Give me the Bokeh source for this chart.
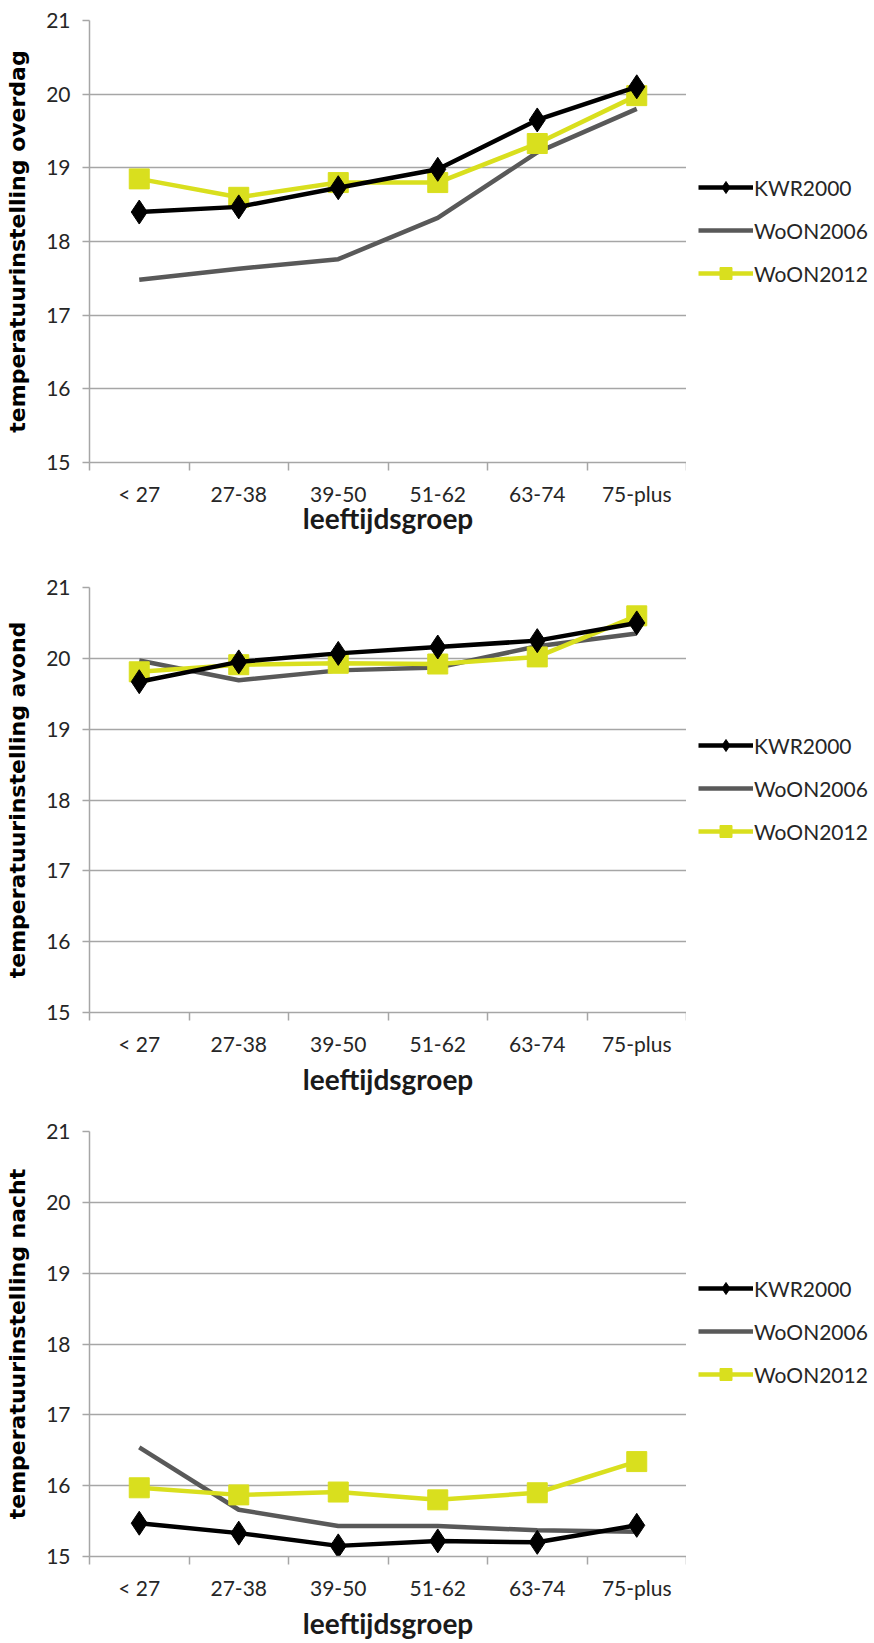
from bokeh.plotting import figure
from bokeh.models import Range1d, FixedTicker, Legend, LegendItem
from bokeh.layouts import column, row
from bokeh.embed import file_html
from bokeh.resources import INLINE

categories = ["< 27", "27-38", "39-50", "51-62", "63-74", "75-plus"]
series_names = ["KWR2000", "WoON2006", "WoON2012"]

overdag_kwr2000 = [18.40, 18.47, 18.73, 18.98, 19.65, 20.10]
overdag_woon2006 = [17.48, 17.63, 17.76, 18.32, 19.21, 19.80]
overdag_woon2012 = [18.85, 18.60, 18.80, 18.80, 19.33, 19.98]

avond_kwr2000 = [19.67, 19.95, 20.07, 20.16, 20.25, 20.50]
avond_woon2006 = [19.97, 19.69, 19.83, 19.87, 20.17, 20.35]
avond_woon2012 = [19.81, 19.91, 19.93, 19.92, 20.02, 20.60]

nacht_kwr2000 = [15.47, 15.33, 15.15, 15.22, 15.20, 15.44]
nacht_woon2006 = [16.54, 15.66, 15.43, 15.43, 15.37, 15.35]
nacht_woon2012 = [15.97, 15.87, 15.91, 15.80, 15.90, 16.34]

y_ticks = [15, 16, 17, 18, 19, 20, 21]
x_label = "leeftijdsgroep"
y_labels = ["temperatuurinstelling overdag", "temperatuurinstelling avond", "temperatuurinstelling nacht"]

COL_KWR = "#000000"
COL_06 = "#595959"
COL_12 = "#D9DF1E"
GRID = "#A6A6A6"
TXT = "#262626"
TICK_FONT = "Lato"

LEFT = 89
PLOT_W = 597
LEG_W = 874 - LEFT - PLOT_W

n = len(categories)
xs = [i + 0.5 for i in range(n)]
bounds = [i for i in range(n + 1)]


def style_series(kind):
    if kind == 0:
        return dict(line_color=COL_KWR, line_width=4.5), dict(marker="diamond", size=24, fill_color=COL_KWR, line_color=COL_KWR)
    if kind == 1:
        return dict(line_color=COL_06, line_width=4.5), None
    return dict(line_color=COL_12, line_width=4.5), dict(marker="square", size=20, fill_color=COL_12, line_color=COL_12)


def make_panel(ylabel, kwr, w06, w12, frame_h, b_top, b_bottom, legend_vy, xl_standoff):
    H = b_top + frame_h + b_bottom
    p = figure(width=LEFT + PLOT_W, height=H,
               x_range=Range1d(0, n), y_range=Range1d(y_ticks[0], y_ticks[-1]),
               output_backend="svg", toolbar_location=None,
               min_border_left=LEFT, min_border_right=0,
               min_border_top=b_top, min_border_bottom=b_bottom)
    p.outline_line_color = None
    p.background_fill_color = "white"
    p.border_fill_color = "white"

    p.xgrid.visible = False
    p.ygrid.ticker = FixedTicker(ticks=y_ticks)
    p.ygrid.grid_line_color = GRID
    p.ygrid.grid_line_width = 1.5

    xa = p.xaxis[0]
    xa.ticker = FixedTicker(ticks=xs, minor_ticks=bounds)
    xa.major_label_overrides = {x: c for x, c in zip(xs, categories)}
    xa.major_tick_out = 0
    xa.major_tick_in = 0
    xa.minor_tick_out = 8
    xa.minor_tick_in = 0
    xa.minor_tick_line_color = GRID
    xa.minor_tick_line_width = 1.5
    xa.axis_line_color = GRID
    xa.axis_line_width = 1.5
    xa.major_label_text_font = TICK_FONT
    xa.major_label_text_font_size = "21px"
    xa.major_label_text_color = TXT
    xa.major_label_standoff = 10
    xa.axis_label = x_label
    xa.axis_label_text_font = TICK_FONT
    xa.axis_label_text_font_style = "bold"
    xa.axis_label_text_font_size = "28px"
    xa.axis_label_text_color = "#1A1A1A"
    xa.axis_label_standoff = xl_standoff

    ya = p.yaxis[0]
    ya.ticker = FixedTicker(ticks=y_ticks)
    ya.major_tick_out = 7
    ya.major_tick_in = 0
    ya.minor_tick_out = 0
    ya.minor_tick_in = 0
    ya.major_tick_line_color = GRID
    ya.major_tick_line_width = 1.5
    ya.axis_line_color = GRID
    ya.axis_line_width = 1.5
    ya.major_label_text_font = TICK_FONT
    ya.major_label_text_font_size = "21px"
    ya.major_label_text_color = TXT
    ya.major_label_standoff = 12
    ya.axis_label = ylabel
    ya.axis_label_text_font = "DejaVu Sans"
    ya.axis_label_text_font_style = "bold"
    ya.axis_label_text_font_size = "22px"
    ya.axis_label_text_color = "#000000"
    ya.axis_label_standoff = 13

    data = {0: kwr, 1: w06, 2: w12}
    # data lines (drawing order: WoON2006, WoON2012, KWR2000 on top)
    for kind in (1, 2, 0):
        ls, ms = style_series(kind)
        p.line(xs, data[kind], **ls)
        if ms:
            p.scatter(xs, data[kind], **ms)

    # legend panel to the right of the chart (its view range excludes the data,
    # so only the legend swatches of these renderers are visible)
    lg = figure(width=LEG_W, height=H, x_range=Range1d(-20, -19), y_range=Range1d(0, 1),
                output_backend="svg", toolbar_location=None,
                x_axis_type=None, y_axis_type=None,
                min_border_left=0, min_border_right=0, min_border_top=0, min_border_bottom=0)
    lg.outline_line_color = None
    lg.background_fill_color = "white"
    lg.border_fill_color = "white"
    items = []
    for kind, name in enumerate(series_names):
        ls, ms = style_series(kind)
        rs = [lg.line(xs, data[kind], **ls)]
        if ms:
            rs.append(lg.scatter(xs, data[kind], **ms))
        items.append(LegendItem(label=name, renderers=rs))
    legend = Legend(items=items, location=(12, legend_vy))
    legend.glyph_width = 55
    legend.glyph_height = 30
    legend.label_height = 30
    legend.spacing = 13
    legend.padding = 0
    legend.margin = 0
    legend.label_standoff = 1
    legend.label_text_font = TICK_FONT
    legend.label_text_font_size = "21px"
    legend.label_text_color = TXT
    legend.border_line_alpha = 0
    legend.background_fill_alpha = 0
    lg.add_layout(legend, "center")
    return row(p, lg, spacing=0)


r1 = make_panel(y_labels[0], overdag_kwr2000, overdag_woon2006, overdag_woon2012, 442, 20, 100, 174, -8)
r2 = make_panel(y_labels[1], avond_kwr2000, avond_woon2006, avond_woon2012, 425, 25, 94, 166, 3)
r3 = make_panel(y_labels[2], nacht_kwr2000, nacht_woon2006, nacht_woon2012, 425, 25, 87, 167, 3)

layout = column(r1, r2, r3, spacing=0)
open("out.html", "w").write(file_html(layout, INLINE))
